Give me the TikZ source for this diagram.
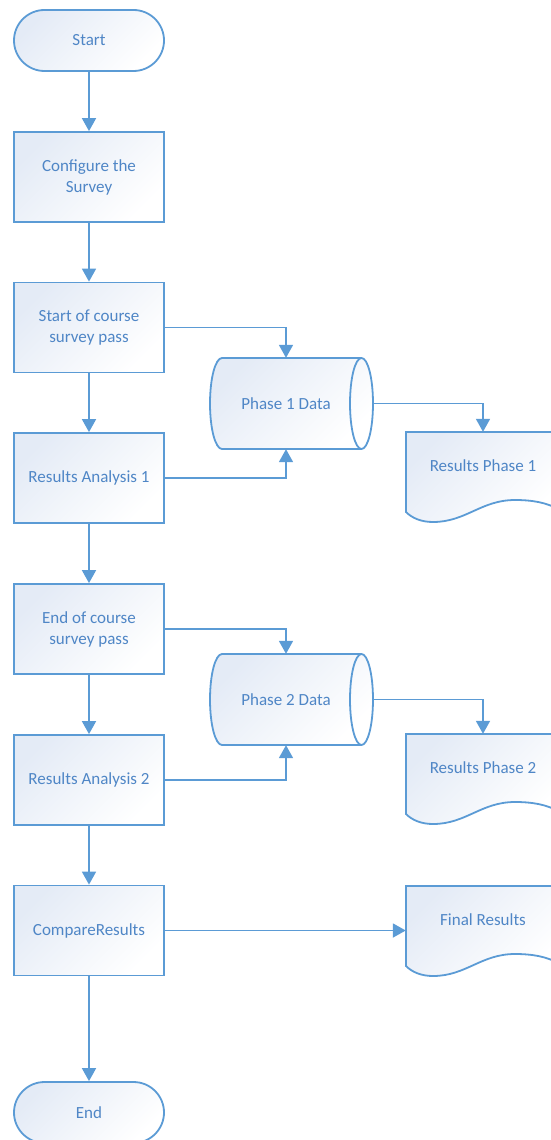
\documentclass[tikz,border=0pt]{standalone}
\usepackage{fontspec}
\setmainfont{Carlito}
\usepackage{tikz}
\usetikzlibrary{arrows.meta}

\definecolor{flowline}{HTML}{5B9BD5}
\definecolor{flowtext}{HTML}{4F86C6}
\definecolor{flowfill}{HTML}{E4EBF6}

\tikzset{
    shade box/.style={draw=flowline, line width=1.8pt, top color=flowfill, middle color=white!80!flowfill, bottom color=white, shading angle=45,
        text=flowtext, font=\fontsize{17}{21}\selectfont, align=center, inner sep=0pt},
    process/.style={shade box, rectangle, minimum width=150pt, minimum height=90pt},
    terminal/.style={shade box, rectangle, rounded corners=30.5pt, minimum width=150pt, minimum height=61pt},
    plaintext/.style={rectangle, text=flowtext, font=\fontsize{17}{21}\selectfont, inner sep=0pt},
    storetext/.style={plaintext, minimum width=174pt, minimum height=91pt},
    doctext/.style={plaintext, minimum width=154pt, minimum height=68pt},
    flow/.style={draw=flowline, line width=1.8pt, -{Triangle[length=13pt,width=14pt]}},
}

% stored data outline, #1 = top left corner
\newcommand{\storeoutline}[1]{%
    \draw[shade box, shift={#1}] (12,0) -- (151.5,0)
        .. controls (157.85,0) and (163,20.37) .. (163,45.5)
        .. controls (163,70.63) and (157.85,91) .. (151.5,91) -- (12,91)
        .. controls (5.37,91) and (0,70.63) .. (0,45.5)
        .. controls (0,20.37) and (5.37,0) .. (12,0) -- cycle;
    \draw[draw=flowline, line width=1.8pt, shift={#1}] (151.5,0)
        .. controls (145.15,0) and (140,20.37) .. (140,45.5)
        .. controls (140,70.63) and (145.15,91) .. (151.5,91);}

% document outline, #1 = top left corner
\newcommand{\docoutline}[1]{%
    \draw[shade box, shift={#1}] (0,0) -- (154,0) -- (154,78)
        .. controls (140,70) and (125,68) .. (109,68)
        .. controls (75,68) and (60,90) .. (27,90)
        .. controls (15,90) and (6,86) .. (0,80) -- cycle;}

\begin{document}
\begin{tikzpicture}[x=1pt, y=-1pt]
    \useasboundingbox (0,0) rectangle (550,1140);

    \node[terminal] (st) at (89,40.5) {Start};
    \node[process] (cf) at (89,177) {Configure the\\Survey};
    \node[process] (sp) at (89,327.5) {Start of course\\survey pass};
    \node[process] (a1) at (89,478) {Results Analysis 1};
    \node[process] (ep) at (89,629) {End of course\\survey pass};
    \node[process] (a2) at (89,780) {Results Analysis 2};
    \node[process] (cr) at (89,930.5) {CompareResults};
    \node[terminal] (en) at (89,1112.5) {End};

    \storeoutline{(210,358)}
    \node[storetext] (d1) at (286,403.5) {Phase 1 Data};
    \storeoutline{(210,654)}
    \node[storetext] (d2) at (286,699.5) {Phase 2 Data};

    \docoutline{(406,432)}
    \node[doctext] (r1) at (483,466) {Results Phase 1};
    \docoutline{(406,734)}
    \node[doctext] (r2) at (483,768) {Results Phase 2};
    \docoutline{(406,886)}
    \node[doctext] (r3) at (483,920) {Final Results};

    \draw[flow] (st) -- (cf);
    \draw[flow] (cf) -- (sp);
    \draw[flow] (sp) -- (a1);
    \draw[flow] (a1) -- (ep);
    \draw[flow] (ep) -- (a2);
    \draw[flow] (a2) -- (cr);
    \draw[flow] (cr) -- (en);

    \draw[flow] (sp.east) -| (d1.north);
    \draw[flow] (a1.east) -| (d1.south);
    \draw[flow] (d1.east) -| (r1.north);
    \draw[flow] (ep.east) -| (d2.north);
    \draw[flow] (a2.east) -| (d2.south);
    \draw[flow] (d2.east) -| (r2.north);
    \draw[flow] (cr) -- (cr -| r3.west);
\end{tikzpicture}
\end{document}
